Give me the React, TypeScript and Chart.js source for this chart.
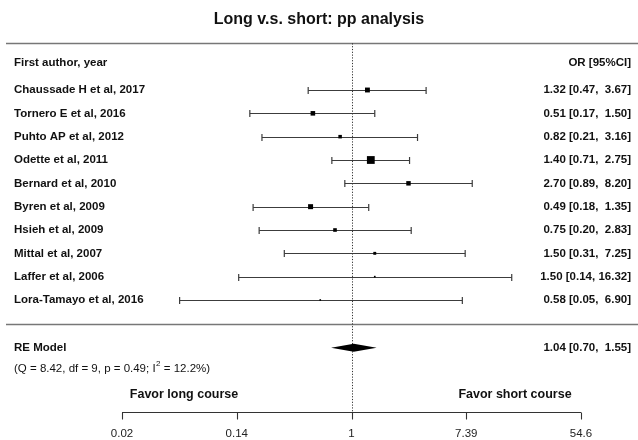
import React, { useEffect, useRef } from "react";
import { Chart, registerables } from "chart.js";

Chart.register(...registerables);

// ---- data ----
const studies = [
  "Chaussade H et al, 2017",
  "Tornero E et al, 2016",
  "Puhto AP et al, 2012",
  "Odette et al, 2011",
  "Bernard et al, 2010",
  "Byren et al, 2009",
  "Hsieh et al, 2009",
  "Mittal et al, 2007",
  "Laffer et al, 2006",
  "Lora-Tamayo et al, 2016",
];
const estimates = [1.32, 0.51, 0.82, 1.4, 2.7, 0.49, 0.75, 1.5, 1.5, 0.58];
const lowers = [0.47, 0.17, 0.21, 0.71, 0.89, 0.18, 0.2, 0.31, 0.14, 0.05];
const uppers = [3.67, 1.5, 3.16, 2.75, 8.2, 1.35, 2.83, 7.25, 16.32, 6.9];
const pooledEstimate = 1.04;
const pooledLower = 0.7;
const pooledUpper = 1.55;
const tickLogValues = [-4, -2, 0, 2, 4];
const tickLabels = ["0.02", "0.14", "1", "7.39", "54.6"];
const titleText = "Long v.s. short: pp analysis";
const hetParts = ["(Q = 8.42, df = 9, p = 0.49; I", "2", " = 12.2%)"];
const favorLeft = "Favor long course";
const favorRight = "Favor short course";

const FONT = '"Liberation Sans", Arial, sans-serif';

const fmt = (v: number) => v.toFixed(2);
const ciText = (e: number, l: number, u: number) =>
  `${fmt(e)} [${fmt(l).padStart(4, " ")}, ${fmt(u).padStart(5, " ")}]`;

// square sizes from inverse standard error
const invSE = lowers.map((l, i) => (2 * 1.96) / (Math.log(uppers[i]) - Math.log(l)));
const wMin = Math.min(...invSE);
const wMax = Math.max(...invSE);
const squareSide = invSE.map((w) => 1.6 + ((w - wMin) / (wMax - wMin)) * 6.2);

// rows (y in row units)
const ROW_TOPLINE = -1;
const ROW_HEADER = -0.18;
const ROW_SEP = 11.05;
const ROW_RE = 12.05;
const ROW_HET = 12.95;
const ROW_FAVOR = 14.05;
const ROW_AXIS = 14.78;
const ROW_TICKLAB = 15.72;

const forestPlugin = {
  id: "forest",
  beforeDatasetsDraw(chart: any) {
    const { ctx, scales } = chart;
    const X = (v: number) => scales.x.getPixelForValue(v);
    const Y = (v: number) => scales.y.getPixelForValue(v);
    const line = (x1: number, y1: number, x2: number, y2: number) => {
      ctx.beginPath();
      ctx.moveTo(x1, y1);
      ctx.lineTo(x2, y2);
      ctx.stroke();
    };
    ctx.save();
    // horizontal rules
    ctx.strokeStyle = "#777";
    ctx.lineWidth = 1.4;
    for (const r of [ROW_TOPLINE, ROW_SEP]) {
      const py = Math.round(Y(r)) + 0.5;
      line(6, py, 638, py);
    }
    // reference dotted line
    ctx.strokeStyle = "#333";
    ctx.lineWidth = 1;
    ctx.setLineDash([1.2, 1.6]);
    const rx = Math.round(X(0)) + 0.5;
    line(rx, Y(ROW_TOPLINE), rx, Y(ROW_AXIS));
    ctx.setLineDash([]);
    // confidence intervals
    ctx.strokeStyle = "#3c3c3c";
    ctx.lineWidth = 1.2;
    studies.forEach((_, i) => {
      const py = Math.round(Y(i + 1)) + 0.5;
      const x1 = X(Math.log(lowers[i]));
      const x2 = X(Math.log(uppers[i]));
      line(x1, py, x2, py);
      line(x1, py - 3.5, x1, py + 3.5);
      line(x2, py - 3.5, x2, py + 3.5);
    });
    ctx.restore();
  },
  afterDatasetsDraw(chart: any) {
    const { ctx, scales } = chart;
    const X = (v: number) => scales.x.getPixelForValue(v);
    const Y = (v: number) => scales.y.getPixelForValue(v);
    const line = (x1: number, y1: number, x2: number, y2: number) => {
      ctx.beginPath();
      ctx.moveTo(x1, y1);
      ctx.lineTo(x2, y2);
      ctx.stroke();
    };
    ctx.save();
    // pooled diamond
    const dy = Y(ROW_RE);
    ctx.fillStyle = "#000";
    ctx.beginPath();
    ctx.moveTo(X(Math.log(pooledLower)), dy);
    ctx.lineTo(X(Math.log(pooledEstimate)), dy - 4);
    ctx.lineTo(X(Math.log(pooledUpper)), dy);
    ctx.lineTo(X(Math.log(pooledEstimate)), dy + 4);
    ctx.closePath();
    ctx.fill();

    // x axis
    ctx.strokeStyle = "#333";
    ctx.lineWidth = 1.1;
    const ay = Math.round(Y(ROW_AXIS)) + 0.5;
    line(X(tickLogValues[0]), ay, X(tickLogValues[tickLogValues.length - 1]), ay);
    ctx.fillStyle = "#222";
    ctx.font = `11.5px ${FONT}`;
    ctx.textAlign = "center";
    ctx.textBaseline = "middle";
    tickLogValues.forEach((t, i) => {
      const tx = Math.round(X(t)) + 0.5;
      line(tx, ay, tx, ay + 7);
      ctx.fillText(tickLabels[i], X(t), Y(ROW_TICKLAB));
    });

    // title
    ctx.fillStyle = "#111";
    ctx.font = `bold 16px ${FONT}`;
    ctx.textAlign = "center";
    ctx.fillText(titleText, 319, 20);

    // headers
    ctx.font = `bold 11.5px ${FONT}`;
    ctx.textAlign = "left";
    ctx.fillText("First author, year", 14, Y(ROW_HEADER));
    ctx.textAlign = "right";
    ctx.fillText("OR [95%CI]", 631, Y(ROW_HEADER));

    // rows
    studies.forEach((s, i) => {
      ctx.textAlign = "left";
      ctx.fillText(s, 14, Y(i + 1));
      ctx.textAlign = "right";
      ctx.fillText(ciText(estimates[i], lowers[i], uppers[i]), 631, Y(i + 1));
    });

    // pooled
    ctx.textAlign = "left";
    ctx.fillText("RE Model", 14, Y(ROW_RE));
    ctx.textAlign = "right";
    ctx.fillText(ciText(pooledEstimate, pooledLower, pooledUpper), 631, Y(ROW_RE));

    // heterogeneity
    ctx.font = `11.5px ${FONT}`;
    ctx.textAlign = "left";
    let hx = 14;
    const hy = Y(ROW_HET);
    ctx.fillText(hetParts[0], hx, hy);
    hx += ctx.measureText(hetParts[0]).width + 0.5;
    ctx.font = `8px ${FONT}`;
    ctx.fillText(hetParts[1], hx, hy - 5);
    hx += ctx.measureText(hetParts[1]).width;
    ctx.font = `11.5px ${FONT}`;
    ctx.fillText(hetParts[2], hx, hy);

    // favor labels
    ctx.font = `bold 12.5px ${FONT}`;
    ctx.textAlign = "center";
    ctx.fillText(favorLeft, 184, Y(ROW_FAVOR));
    ctx.fillText(favorRight, 515, Y(ROW_FAVOR));
    ctx.restore();
  },
};

export default function App() {
  const canvasRef = useRef<HTMLCanvasElement | null>(null);

  useEffect(() => {
    const canvas = canvasRef.current;
    if (!canvas) return;
    const points = estimates.map((e, i) => ({ x: Math.log(e), y: i + 1 }));
    const chart = new Chart(canvas, {
      type: "scatter",
      data: {
        datasets: [
          {
            data: points,
            pointStyle: "rect",
            pointRadius: squareSide.map((s) => s / Math.SQRT2),
            pointBackgroundColor: "#000",
            pointBorderWidth: 0,
            pointBorderColor: "#000",
            clip: false,
          } as any,
        ],
      },
      options: {
        animation: false,
        responsive: false,
        maintainAspectRatio: false,
        devicePixelRatio: 1,
        layout: { padding: 0, autoPadding: false },
        events: [],
        scales: {
          x: { type: "linear", min: -6.126, max: 4.993, display: false },
          y: { type: "linear", min: -2.857, max: 16.0, reverse: true, display: false },
        },
        plugins: { legend: { display: false }, tooltip: { enabled: false } },
      },
      plugins: [forestPlugin],
    });
    return () => chart.destroy();
  }, []);

  return (
    <div style={{ position: "absolute", left: 0, top: 0, width: 638, height: 440, background: "#fff" }}>
      <canvas ref={canvasRef} width={638} height={440} style={{ width: 638, height: 440, display: "block" }} />
    </div>
  );
}
